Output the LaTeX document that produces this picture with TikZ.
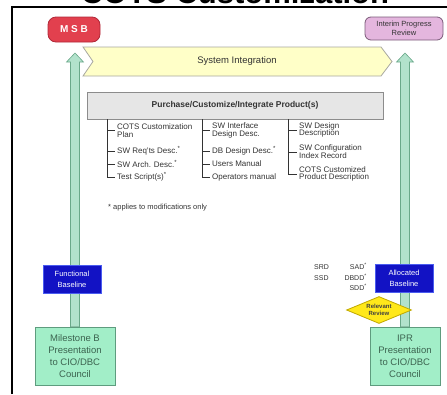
\documentclass[tikz,border=0pt]{standalone}
\usepackage{fontspec}
\setmainfont{Liberation Sans}
\usetikzlibrary{shapes.geometric,calc}

\definecolor{gfill}{HTML}{A2EEC8}
\definecolor{gline}{HTML}{5E9C7E}
\definecolor{afill}{HTML}{B2E2CC}
\definecolor{aline}{HTML}{6AA88A}
\definecolor{bfill}{HTML}{1212C4}
\definecolor{bline}{HTML}{4A5CF0}
\definecolor{rfill}{HTML}{E2404E}
\definecolor{rline}{HTML}{B02838}
\definecolor{pfill}{HTML}{E4B6DE}
\definecolor{pline}{HTML}{7A5A78}
\definecolor{yfill}{HTML}{FFFFC8}
\definecolor{yline}{HTML}{A8A8A0}
\definecolor{dfill}{HTML}{FFE81A}
\definecolor{dline}{HTML}{C0A800}
\definecolor{boxfill}{HTML}{E6E6E6}
\definecolor{boxline}{HTML}{8C8C8C}
\definecolor{txt}{HTML}{333333}
\definecolor{gtxt}{HTML}{3C6450}

\pgfdeclarelayer{back}
\pgfsetlayers{back,main}

\begin{document}
\begin{tikzpicture}[x=1pt,y=-1pt,
  council/.style={draw=gline, fill=gfill, line width=0.8pt, minimum height=58pt,
    inner sep=1pt, align=center, text=gtxt, font=\fontsize{9.5}{12}\selectfont},
  blbox/.style={draw=bline, fill=bfill, line width=0.8pt, minimum width=58pt,
    minimum height=28pt, inner sep=1pt, align=center, text=white,
    font=\fontsize{7.5}{11}\selectfont},
  item/.style={anchor=west, inner ysep=0pt, inner xsep=2.5pt, align=left, text=txt,
    font=\fontsize{8}{7.8}\selectfont},
  tree/.style={draw=txt, line width=0.6pt},
  uparrow/.style={fill=afill, draw=aline, line width=0.6pt},
  doclbl/.style={inner sep=0pt, text=txt, font=\fontsize{7}{7}\selectfont}
]
\useasboundingbox (0,0) rectangle (447,394);

% heading and frame
\node[anchor=base, inner sep=0pt, font=\fontsize{31}{31}\selectfont\bfseries] (title) at (235,3.5) {COTS Customization};
\draw[line width=1.3pt] (12,394) -- (12,7) -- (447,7);

% decision points at the top
\node[draw=rline, fill=rfill, rounded corners=8pt, line width=0.8pt, minimum width=52pt,
  minimum height=25pt, text=white, font=\fontsize{10}{10}\selectfont\bfseries] (msb) at (74,29.5) {M S B};
\node[draw=pline, fill=pfill, rounded corners=6pt, line width=0.8pt, minimum width=78pt,
  minimum height=23pt, inner sep=1pt, align=center, text=black!80,
  font=\fontsize{7.5}{9}\selectfont] (ipr) at (404,28.5) {Interim Progress\\Review};

% council boxes with upward arrows behind them
\coordinate (tipL) at (75,53);
\coordinate (tipR) at (405,53);
\node[council, minimum width=80pt] (mb) at (75,356) {Milestone B\\Presentation\\to CIO/DBC\\Council};
\node[council, minimum width=70pt] (iprc) at (405,356) {IPR\\Presentation\\to CIO/DBC\\Council};

\begin{pgfonlayer}{back}
\path[uparrow] ($(mb.north)+(-4.5,0)$) -- ($(tipL)+(-4.5,9)$) -- ($(tipL)+(-8.5,9)$) -- (tipL)
  -- ($(tipL)+(8.5,9)$) -- ($(tipL)+(4.5,9)$) -- ($(mb.north)+(4.5,0)$) -- cycle;
\path[uparrow] ($(iprc.north)+(-4.5,0)$) -- ($(tipR)+(-4.5,9)$) -- ($(tipR)+(-8.5,9)$) -- (tipR)
  -- ($(tipR)+(8.5,9)$) -- ($(tipR)+(4.5,9)$) -- ($(iprc.north)+(4.5,0)$) -- cycle;
\end{pgfonlayer}

% system integration band
\draw[fill=yfill, draw=yline, line width=0.8pt] (83,47) -- (381,47) -- (392,61.5) -- (381,76)
  -- (83,76) -- (93,61.5) -- cycle;
\node[text=txt, font=\fontsize{9.5}{10}\selectfont] (si) at (237,61.5) {System Integration};

% product box
\node[draw=boxline, fill=boxfill, line width=0.8pt, minimum width=296pt, minimum height=27pt,
  font=\fontsize{8.5}{9}\selectfont\bfseries, text=txt] (gb) at (235,105.5)
  {Purchase/Customize/Integrate Product(s)};

% document lists
\coordinate (t1) at (107,119);
\coordinate (t2) at (202,119);
\coordinate (t3) at (288,119);

\node[item] (i11) at (114.5,130.5) {COTS Customization\\Plan};
\node[item] (i12) at (114.5,151) {SW Req'ts Desc.\textsuperscript{*}};
\node[item] (i13) at (114.5,164) {SW Arch. Desc.\textsuperscript{*}};
\node[item] (i14) at (114.5,177) {Test Script(s)\textsuperscript{*}};

\node[item] (i21) at (209.5,130.5) {SW Interface\\Design Desc.};
\node[item] (i22) at (209.5,151) {DB Design Desc.\textsuperscript{*}};
\node[item] (i23) at (209.5,164) {Users Manual};
\node[item] (i24) at (209.5,177) {Operators manual};

\node[item] (i31) at (296.5,130) {SW Design\\Description};
\node[item] (i32) at (296.5,152) {SW Configuration\\Index Record};
\node[item] (i33) at (296.5,174) {COTS Customized\\Product Description};

\draw[tree] (t1) |- (i14.west);
\foreach \n in {i11,i12,i13} \draw[tree] (t1 |- \n.west) -- (\n.west);
\draw[tree] (t2) |- (i24.west);
\foreach \n in {i21,i22,i23} \draw[tree] (t2 |- \n.west) -- (\n.west);
\draw[tree] (t3) |- (i33.west);
\foreach \n in {i31,i32} \draw[tree] (t3 |- \n.west) -- (\n.west);

\node[anchor=west, inner sep=0pt, text=txt, font=\fontsize{7.5}{9}\selectfont] (fn) at (108,208)
  {* applies to modifications only};

% baselines
\node[blbox] (fb) at (72,279) {Functional\\Baseline};
\node[blbox] (ab) at (404,278) {Allocated\\Baseline};

\node[doclbl, anchor=west] (d1) at (314,267) {SRD};
\node[doclbl, anchor=west] (d2) at (314,278) {SSD};
\node[doclbl, anchor=east] (d3) at (367,266) {SAD\textsuperscript{*}};
\node[doclbl, anchor=east] (d4) at (367,277) {DBDD\textsuperscript{*}};
\node[doclbl, anchor=east] (d5) at (367,287) {SDD\textsuperscript{*}};

% review diamond
\node[diamond, aspect=2.4, draw=dline, fill=dfill, line width=0.8pt, minimum width=65pt,
  minimum height=27pt, inner sep=0pt, align=center, text=black!75,
  font=\fontsize{6}{7}\selectfont\bfseries] (rr) at (379,310) {Relevant\\Review};
\end{tikzpicture}
\end{document}
